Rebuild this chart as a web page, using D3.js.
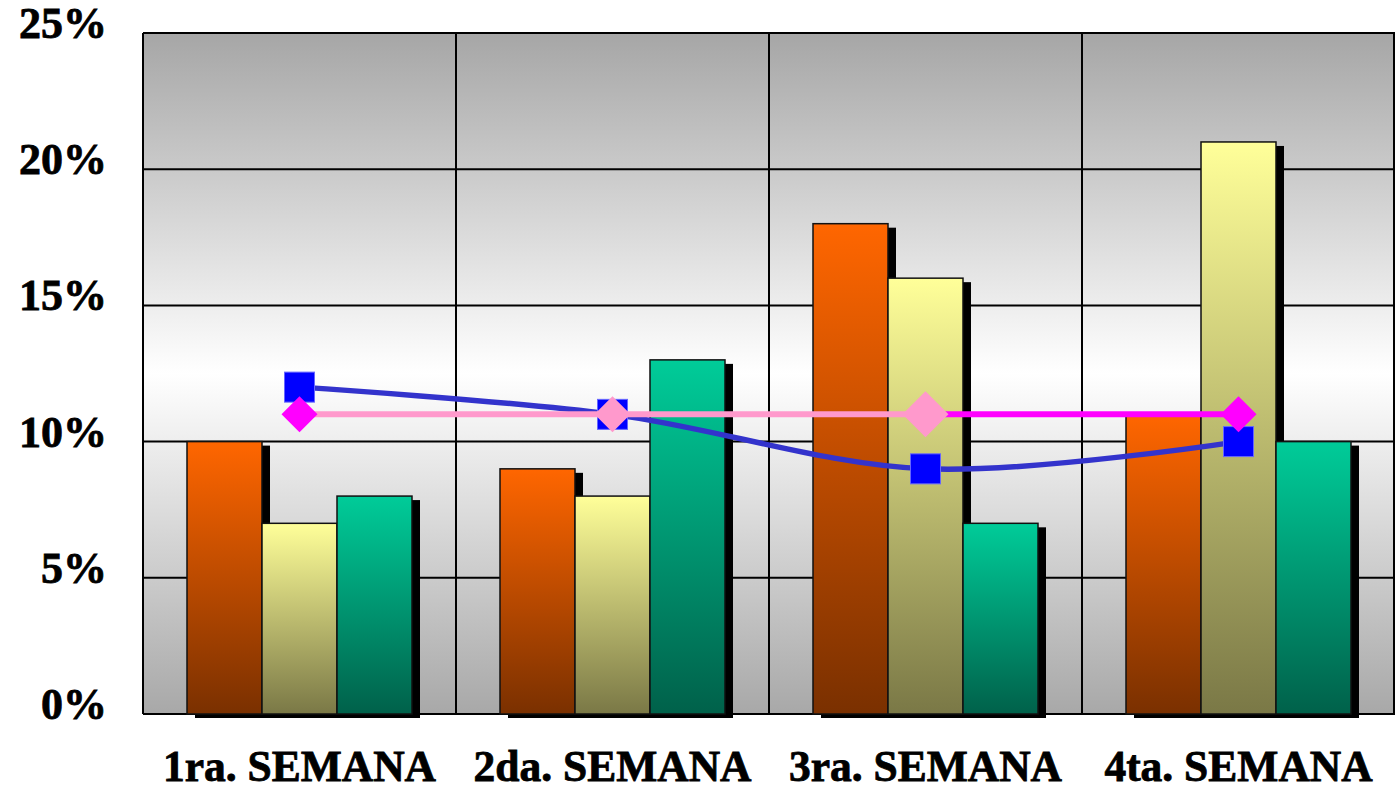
<!DOCTYPE html>
<html><head><meta charset="utf-8">
<script src="https://cdn.jsdelivr.net/npm/d3@7"></script>
<style>html,body{margin:0;padding:0;background:#fff;overflow:hidden}</style>
</head><body>
<svg id="chart" width="1395" height="791"></svg>
<script>
const categories = ["1ra. SEMANA", "2da. SEMANA", "3ra. SEMANA", "4ta. SEMANA"];
const seriesNames = ["A", "B", "C"];
const barOrange = [10, 9, 18, 11];
const barYellow = [7, 8, 16, 21];
const barTeal = [8, 13, 7, 10];
const lineBlue = [12, 11, 9, 10];
const linePink = [11, 11, 11, 11];
const yTicks = [0, 5, 10, 15, 20, 25];

const svg = d3.select("#chart");
const m = {l: 143, r: 1395, t: 33, b: 714};
const x0 = d3.scaleBand().domain(categories).range([m.l, m.r]).paddingInner(0).paddingOuter(0);
const x1 = d3.scaleBand().domain(seriesNames).range([44, 269]);
const y = d3.scaleLinear().domain([0, 25]).range([m.b, m.t]);

const defs = svg.append("defs");
const bg = defs.append("linearGradient").attr("id", "bg").attr("x1", 0).attr("x2", 0).attr("y1", 0).attr("y2", 1);
bg.append("stop").attr("offset", "0%").attr("stop-color", "#a6a6a6");
bg.append("stop").attr("offset", "50%").attr("stop-color", "#ffffff");
bg.append("stop").attr("offset", "100%").attr("stop-color", "#a8a8a8");

const barColors = [["#ff6600", "#7a3000"], ["#ffff99", "#7a7846"], ["#00cc99", "#00614a"]];
barColors.forEach((c, i) => {
  const g = defs.append("linearGradient").attr("id", "bar" + i).attr("x1", 0).attr("x2", 0).attr("y1", 0).attr("y2", 1);
  g.append("stop").attr("offset", "0%").attr("stop-color", c[0]);
  g.append("stop").attr("offset", "100%").attr("stop-color", c[1]);
});

svg.append("rect").attr("x", m.l).attr("y", m.t).attr("width", m.r - m.l).attr("height", m.b - m.t).attr("fill", "url(#bg)");

svg.append("g").selectAll("line").data(yTicks).join("line")
  .attr("x1", m.l).attr("x2", m.r).attr("y1", d => y(d)).attr("y2", d => y(d))
  .attr("stroke", "#000").attr("stroke-width", 2);
svg.append("g").selectAll("line").data(categories).join("line")
  .attr("x1", d => x0(d)).attr("x2", d => x0(d)).attr("y1", m.t).attr("y2", m.b)
  .attr("stroke", "#000").attr("stroke-width", 2);
svg.append("line").attr("x1", m.r - 1).attr("x2", m.r - 1).attr("y1", m.t).attr("y2", m.b).attr("stroke", "#000").attr("stroke-width", 2);

const barData = [];
categories.forEach((c, i) => {
  [barOrange, barYellow, barTeal].forEach((arr, j) => {
    barData.push({cat: c, s: seriesNames[j], v: arr[i], j});
  });
});
const gb = svg.append("g");
gb.selectAll("rect.sh").data(barData).join("rect").attr("class", "sh")
  .attr("x", d => x0(d.cat) + x1(d.s) + 8).attr("y", d => y(d.v) + 4)
  .attr("width", x1.bandwidth()).attr("height", d => y(0) - y(d.v))
  .attr("fill", "#000");
gb.selectAll("rect.bar").data(barData).join("rect").attr("class", "bar")
  .attr("x", d => x0(d.cat) + x1(d.s)).attr("y", d => y(d.v))
  .attr("width", x1.bandwidth()).attr("height", d => y(0) - y(d.v))
  .attr("fill", d => "url(#bar" + d.j + ")").attr("stroke", "#111").attr("stroke-width", 1.5);

const cx = c => x0(c) + x0.bandwidth() / 2;

const blue = categories.map((c, i) => [cx(c), y(lineBlue[i])]);
svg.append("path").attr("d", d3.line().curve(d3.curveCatmullRom.alpha(0.5))(blue))
  .attr("fill", "none").attr("stroke", "#3333cc").attr("stroke-width", 5.5);
svg.append("g").selectAll("rect").data(blue).join("rect")
  .attr("x", d => d[0] - 15).attr("y", d => d[1] - 15).attr("width", 30).attr("height", 30)
  .attr("fill", "#0000ff").attr("stroke", "#6666ff").attr("stroke-width", 1);

const pink = categories.map((c, i) => [cx(c), y(linePink[i])]);
const segColors = ["#ff99cc", "#ff99cc", "#ff00ff"];
for (let i = 0; i < pink.length - 1; i++) {
  svg.append("line").attr("x1", pink[i][0]).attr("y1", pink[i][1]).attr("x2", pink[i + 1][0]).attr("y2", pink[i + 1][1])
    .attr("stroke", segColors[i]).attr("stroke-width", 6);
}
const markColors = ["#ff00ff", "#ff99cc", "#ff99cc", "#ff00ff"];
const markSizes = [18, 18, 23, 18];
svg.append("g").selectAll("path").data(pink).join("path")
  .attr("d", (d, i) => { const s = markSizes[i]; return `M${d[0]},${d[1]-s}L${d[0]+s},${d[1]}L${d[0]},${d[1]+s}L${d[0]-s},${d[1]}Z`; })
  .attr("fill", (d, i) => markColors[i]);

const font = "'Liberation Serif','Times New Roman',serif";
svg.append("g").selectAll("text").data(yTicks).join("text")
  .attr("x", 107).attr("y", d => y(d) + 5).attr("text-anchor", "end")
  .attr("font-family", font).attr("font-weight", "bold").attr("font-size", 44)
  .attr("stroke", "#000").attr("stroke-width", 0.8)
  .text(d => d + "%");
svg.append("g").selectAll("text").data(categories).join("text")
  .attr("x", d => cx(d)).attr("y", 781).attr("text-anchor", "middle")
  .attr("font-family", font).attr("font-weight", "bold").attr("font-size", 43.5)
  .attr("stroke", "#000").attr("stroke-width", 0.8)
  .text(d => d);
</script>
</body></html>
